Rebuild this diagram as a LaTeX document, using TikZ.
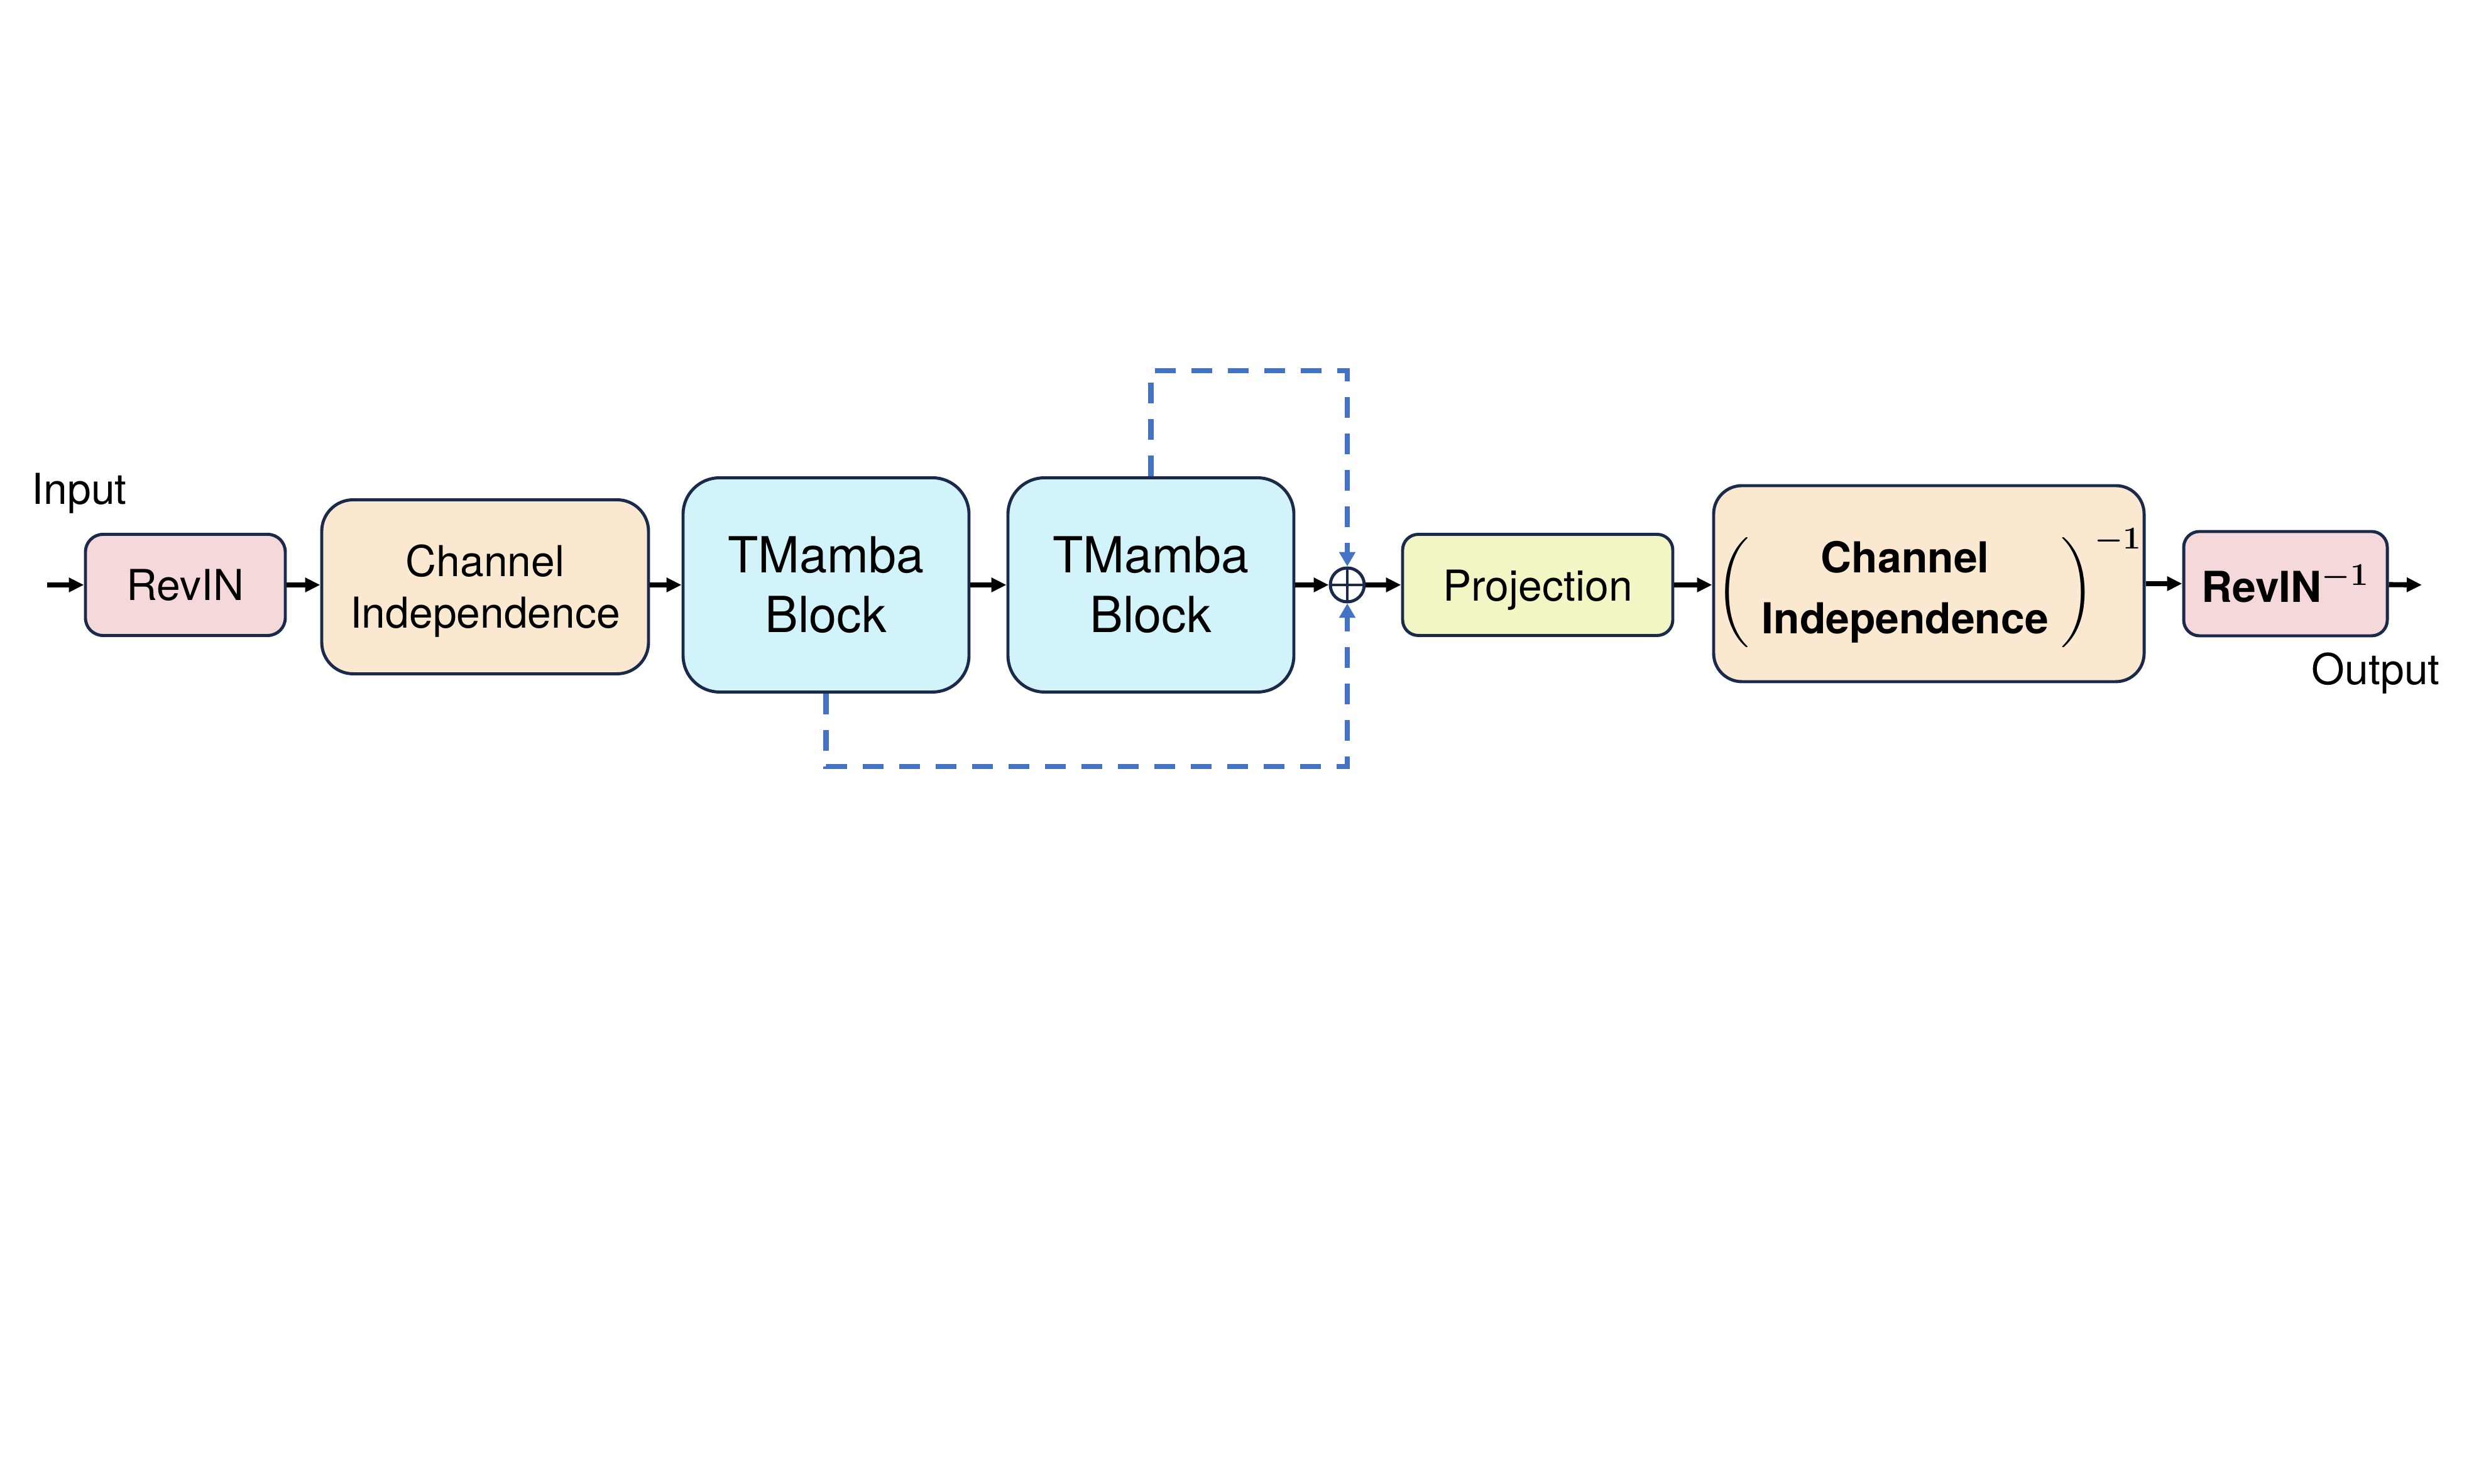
\documentclass[tikz,border=0pt]{standalone}
\usepackage{amsmath}
\usepackage{fontspec}
\setmainfont{TeX Gyre Heros}
\usetikzlibrary{arrows.meta}
\definecolor{edge}{HTML}{1B2A4A}
\definecolor{pinkfill}{HTML}{F5D9DA}
\definecolor{beigefill}{HTML}{FBE8D1}
\definecolor{cyanfill}{HTML}{D2F3F9}
\definecolor{yellowfill}{HTML}{F2F5C4}
\definecolor{skipblue}{HTML}{4472C4}
\newcommand{\sinktext}[1]{\raisebox{-0.08cm}[\height][\depth]{#1}}
\begin{document}
\begin{tikzpicture}[
  box/.style={draw=edge,line width=1.4pt,align=center,inner sep=0pt,
    font=\fontsize{19.3}{23.5}\selectfont},
  flow/.style={line width=2.3pt,-{Triangle[length=0.24cm,width=0.22cm]}},
  skip/.style={draw=skipblue,line width=2.3pt,dash pattern=on 0.33cm off 0.25cm,
    -{Triangle[length=0.23cm,width=0.25cm]}},
  lbl/.style={font=\fontsize{19.3}{23.5}\selectfont}
]
\useasboundingbox (0,0) rectangle (39.37,23.62);
\node[box,fill=pinkfill,minimum width=3.18cm,minimum height=1.61cm,rounded corners=0.28cm] (revin) at (2.95,14.31) {RevIN};
\node[box,fill=beigefill,minimum width=5.2cm,minimum height=2.77cm,rounded corners=0.5cm] (chind) at (7.72,14.28)
  {\sinktext{\begin{tabular}{@{}c@{}}Channel\\Independence\end{tabular}}};
\node[box,fill=cyanfill,minimum width=4.55cm,minimum height=3.41cm,rounded corners=0.58cm,
  font=\fontsize{22.5}{27}\selectfont] (tmA) at (13.145,14.31) {TMamba\\Block};
\node[box,fill=cyanfill,minimum width=4.55cm,minimum height=3.41cm,rounded corners=0.58cm,
  font=\fontsize{22.5}{27}\selectfont] (tmB) at (18.315,14.31) {TMamba\\Block};
\node[draw=edge,line width=1.4pt,circle,minimum size=0.54cm,inner sep=0pt] (sum) at (21.44,14.31) {};
\draw[edge,line width=1.4pt] (sum.north) -- (sum.south) (sum.west) -- (sum.east);
\node[box,fill=yellowfill,minimum width=4.3cm,minimum height=1.61cm,rounded corners=0.25cm] (proj) at (24.47,14.31)
  {\sinktext{Projection}};
\node[box,fill=beigefill,minimum width=6.85cm,minimum height=3.12cm,rounded corners=0.45cm] (chinv) at (30.695,14.33)
  {\sinktext{$\left(\hspace{0.2cm}\begin{tabular}{@{}c@{}}\fontsize{19.3}{27}\selectfont\bfseries Channel\\[4pt]\fontsize{19.3}{27}\selectfont\bfseries Independence\end{tabular}\hspace{0.2cm}\right)^{\boldsymbol{-1}}$}};
\node[box,fill=pinkfill,minimum width=3.24cm,minimum height=1.66cm,rounded corners=0.25cm] (revinv) at (36.37,14.33)
  {\textbf{RevIN}$^{\boldsymbol{-1}}$};
\node[lbl] (inp) at (1.26,15.77) {Input};
\node[lbl,anchor=east] (outp) at (38.95,12.9) {Output};
\coordinate (start) at (0.75,14.31);
\coordinate (finish) at (38.54,14.31);
\draw[flow] (start) -- (revin);
\draw[flow] (revin) -- (chind.west |- revin);
\draw[flow] (chind.east |- revin) -- (tmA);
\draw[flow] (tmA) -- (tmB);
\draw[flow] (tmB) -- (sum);
\draw[flow] (sum) -- (proj);
\draw[flow] (proj) -- (proj -| chinv.west);
\draw[flow] (chinv.east |- revinv) -- (revinv);
\draw[flow] (revinv) -- (finish);
\draw[skip] (tmB.north) -- ++(0,1.68) -| (sum.north);
\draw[skip] (tmA.south) -- ++(0,-1.16) -| (sum.south);
\end{tikzpicture}
\end{document}
